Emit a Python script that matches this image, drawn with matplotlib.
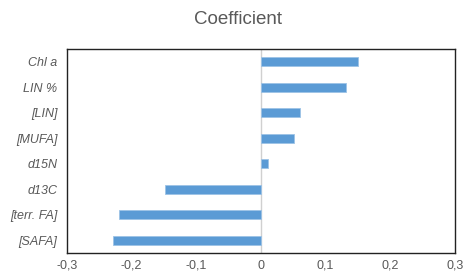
import matplotlib
matplotlib.use('Agg')
import matplotlib.pyplot as plt

# Coefficients, bottom to top
labels = ['[SAFA]', '[terr. FA]', 'd13C', 'd15N', '[MUFA]', '[LIN]', 'LIN %', 'Chl a']
values = [-0.229, -0.219, -0.149, 0.011, 0.051, 0.061, 0.131, 0.150]
xticks = [-0.3, -0.2, -0.1, 0, 0.1, 0.2, 0.3]
xticklabels = ['-0,3', '-0,2', '-0,1', '0', '0,1', '0,2', '0,3']

plt.rcParams['font.family'] = ['Liberation Sans', 'DejaVu Sans']
grey = '#595959'

fig = plt.figure(figsize=(4.65, 2.74), dpi=100)
ax = fig.add_axes([0.144, 0.077, 0.834, 0.744])

ax.barh(range(len(values)), values, height=0.36, color='#5B9BD5',
        edgecolor='#9DC3E6', linewidth=0.6, zorder=3)
ax.axvline(0, color='#D0D0D0', linewidth=1.0, zorder=2)

ax.set_xlim(-0.3, 0.3)
ax.set_ylim(-0.5, len(values) - 0.5)
ax.set_xticks(xticks)
ax.set_xticklabels(xticklabels)
ax.set_yticks(range(len(labels)))
ax.set_yticklabels(labels, style='italic')
ax.tick_params(axis='both', length=0, labelsize=9, colors=grey)
ax.tick_params(axis='x', pad=5)
ax.tick_params(axis='y', pad=7)

for s in ax.spines.values():
    s.set_color('#222222')
    s.set_linewidth(1.0)

fig.text(0.511, 0.93, 'Coefficient', ha='center', va='center',
         fontsize=13.5, color=grey)

fig.savefig('out.png', dpi=100)
